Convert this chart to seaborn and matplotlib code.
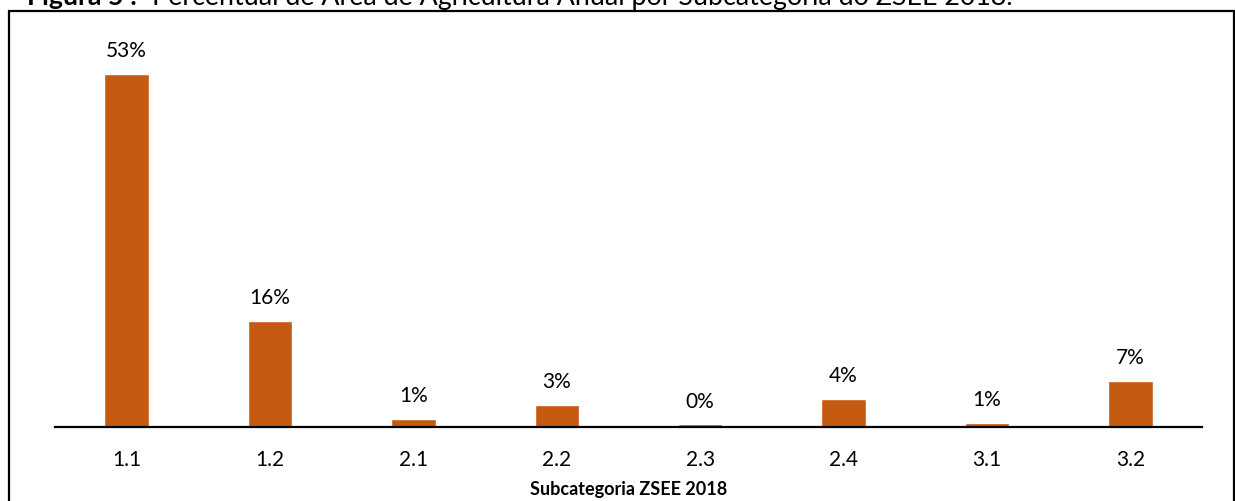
import matplotlib
matplotlib.use("Agg")
import matplotlib.pyplot as plt
from matplotlib.patches import Rectangle
import seaborn as sns
import pandas as pd

# Share of annual-crop area per ZSEE 2018 subcategory (%)
subcategorias = ["1.1", "1.2", "2.1", "2.2", "2.3", "2.4", "3.1", "3.2"]
percentual = [53.0, 15.9, 1.2, 3.3, 0.4, 4.2, 0.6, 6.9]
rotulos = [f"{v:.0f}%" for v in percentual]

titulo_negrito = "Figura 5 :"
titulo = "Percentual de Área de Agricultura Anual por Subcategoria do ZSEE 2018."
eixo_x = "Subcategoria ZSEE 2018"

W, H = 1235, 501
sns.set_theme(style="white")
plt.rcParams["font.family"] = ["Lato", "DejaVu Sans"]

fig = plt.figure(figsize=(W / 100, H / 100), dpi=100)


def box(x0, y0, x1, y1):
    """Pixel box (top-left origin) -> figure fraction rect."""
    return [x0 / W, 1 - y1 / H, (x1 - x0) / W, (y1 - y0) / H]


ax = fig.add_axes(box(55, 27, 1202, 427))
df = pd.DataFrame({"sub": subcategorias, "pct": percentual})
sns.barplot(data=df, x="sub", y="pct", color="#C55A11", saturation=1,
            width=0.31, ax=ax, errorbar=None)

ax.set_xlim(-0.5, len(subcategorias) - 0.5)
ax.set_ylim(0, 60)
ax.set_yticks([])
ax.set_xlabel("")
ax.set_ylabel("")
for side in ("left", "right", "top"):
    ax.spines[side].set_visible(False)
ax.spines["bottom"].set_color("black")
ax.spines["bottom"].set_linewidth(1.6)
ax.tick_params(axis="x", length=0, pad=16.5, labelsize=15, colors="black")

for cont in ax.containers:
    ax.bar_label(cont, labels=rotulos, padding=9, fontsize=15, color="black")

# axis title
fig.text(628.5 / W, 1 - 489 / H, eixo_x, ha="center", va="center",
         fontsize=13, fontweight="bold", color="black")

# outer frame
fig.add_artist(Rectangle((9 / W, -0.05), (1234 - 9) / W, 1 - 11 / H + 0.05,
                         transform=fig.transFigure, fill=False,
                         edgecolor="black", linewidth=1.6))

# caption at top
fig.text(27 / W, 1 - 5 / H, titulo_negrito, ha="left", va="baseline",
         fontsize=19.3, fontweight="bold", color="black")
fig.text(152 / W, 1 - 5 / H, titulo, ha="left", va="baseline",
         fontsize=19.3, color="black")

fig.savefig("out.png", dpi=100)
